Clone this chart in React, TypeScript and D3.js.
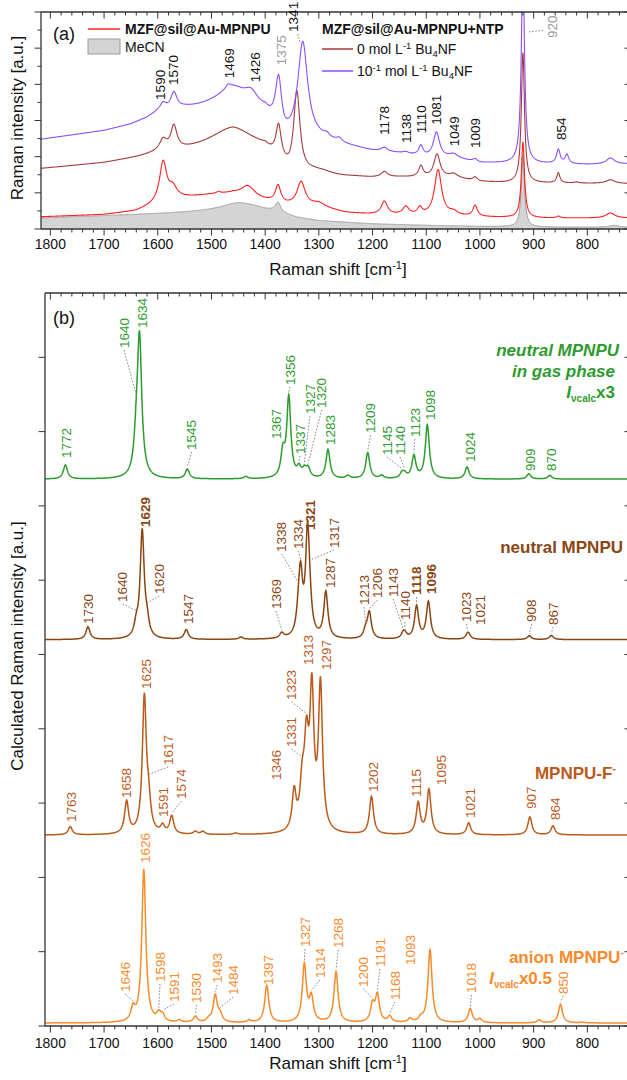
import React from 'react';
import * as d3 from 'd3';

type Band = [number, number, number?];
type Pt = [number, number];
type Lbl = { v: number; x: number; y: number; b?: boolean; g?: boolean };

const FONT = "'Liberation Sans', Arial, Helvetica, sans-serif";

// x axis tick labels (Raman shift, cm-1)
const xTickLabels = [1800, 1700, 1600, 1500, 1400, 1300, 1200, 1100, 1000, 900, 800];

// ---------- panel (a): measured spectra (baseline anchors [cm-1, a.u.] + bands [cm-1, height, fwhm]) ----------
const mecnBaseline: Pt[] = [[1830, 0.3], [1600, 0.42], [1500, 0.48], [1420, 0.52], [1380, 0.45], [1340, 0.3], [1300, 0.22], [1200, 0.14], [1100, 0.1], [1000, 0.07], [900, 0.05], [712, 0.05]];
const mecnBands: Band[] = [[1450, 0.22, 80], [1376, 0.26, 12], [920, 2.0, 7], [750, 0.05, 20]];

const sampleBaseline: Pt[] = [[1830, 0.33], [1700, 0.4], [1640, 0.5], [1600, 0.7], [1560, 0.85], [1500, 0.95], [1460, 0.98], [1400, 0.78], [1360, 0.66], [1300, 0.6], [1250, 0.45], [1200, 0.4], [1100, 0.36], [1000, 0.33], [900, 0.3], [712, 0.3]];
const sampleBands: Band[] = [[1590, 1.1, 16], [1572, 0.3, 18], [1487, 0.05, 8], [1432, 0.3, 30], [1376, 0.47, 12], [1333, 0.65, 18], [1300, 0.1, 30], [1178, 0.36, 14], [1138, 0.22, 14], [1112, 0.19, 10], [1078, 1.27, 16], [1049, 0.1, 20], [1009, 0.3, 10], [920, 2.1, 7], [854, 0.05, 8], [757, 0.14, 20]];

const ntp0Baseline: Pt[] = [[1830, 1.65], [1700, 1.82], [1640, 1.96], [1600, 2.08], [1560, 2.13], [1460, 2.3], [1400, 2.14], [1355, 1.48], [1300, 1.37], [1232, 1.41], [1200, 1.4], [1150, 1.42], [1050, 1.4], [1000, 1.3], [950, 1.27], [712, 1.25]];
const ntp0Bands: Band[] = [[1590, 0.3, 16], [1570, 0.65, 14], [1460, 0.5, 100], [1375, 0.9, 12], [1341, 2.2, 14], [1300, 0.2, 60], [1178, 0.15, 14], [1110, 0.3, 10], [1080, 0.64, 14], [1049, 0.1, 20], [1009, 0.1, 10], [920, 3.6, 7], [854, 0.28, 7], [820, 0.03, 10], [757, 0.1, 20]];

const ntp1Baseline: Pt[] = [[1830, 2.45], [1700, 2.71], [1650, 2.88], [1620, 3.05], [1600, 3.2], [1550, 3.3], [1500, 3.3], [1400, 3.1], [1365, 2.4], [1330, 2.5], [1290, 2.45], [1250, 2.3], [1200, 2.15], [1150, 2.08], [1100, 1.97], [1050, 1.95], [1000, 1.82], [900, 1.8], [800, 1.78], [712, 1.8]];
const ntp1Bands: Band[] = [[1590, 0.2, 14], [1570, 0.45, 14], [1460, 0.65, 70], [1469, 0.1, 10], [1426, 0.35, 30], [1375, 1.4, 14], [1330, 2.6, 22], [1285, 0.08, 10], [1262, 0.1, 12], [1178, 0.11, 14], [1138, 0.05, 14], [1110, 0.28, 10], [1081, 0.69, 14], [1049, 0.1, 20], [1009, 0.08, 10], [920, 5.5, 7], [854, 0.39, 8], [838, 0.25, 8], [757, 0.17, 18]];

const panelALabels: Lbl[] = [
  { v: 1590, x: 1596, y: 3.57 }, { v: 1570, x: 1571.7, y: 3.98 }, { v: 1469, x: 1467.4, y: 4.17 },
  { v: 1426, x: 1419, y: 4.06 }, { v: 1375, x: 1370.6, y: 4.53, g: true }, { v: 1341, x: 1348.3, y: 5.45 },
  { v: 920, x: 866, y: 5.28, g: true }, { v: 1178, x: 1178.8, y: 2.6 }, { v: 1138, x: 1137.9, y: 2.38 },
  { v: 1110, x: 1110, y: 2.65 }, { v: 1081, x: 1082, y: 2.88 }, { v: 1049, x: 1048.5, y: 2.29 },
  { v: 1009, x: 1009.4, y: 2.24 }, { v: 854, x: 849.3, y: 2.46 },
];
const panelALeaders: [number, number, number, number][] = [[1339, 5.39, 1335.3, 5.17], [908.8, 5.45, 879, 5.5]];

// ---------- panel (b): calculated spectra (bands [cm-1, intensity, fwhm]) ----------
const stackOffsets = { gas: 7.36, neutral: 5.2, fluoride: 2.57, anion: 0.04 };

const gasBands: Band[] = [[1772, 0.19], [1640, 0.35, 10], [1634, 1.85, 10], [1545, 0.13], [1436, 0.03], [1367, 0.32], [1356, 1.08], [1337, 0.12], [1327, 0.1], [1320, 0.12], [1283, 0.39], [1246, 0.04], [1209, 0.35], [1183, 0.04], [1145, 0.07], [1140, 0.05], [1123, 0.3], [1098, 0.72], [1024, 0.16], [909, 0.07], [870, 0.05]];
const neutralBands: Band[] = [[1730, 0.17], [1640, 0.15], [1629, 1.44], [1620, 0.17], [1547, 0.13], [1445, 0.03], [1369, 0.07], [1338, 0.2], [1334, 0.78], [1321, 1.37], [1317, 0.2], [1287, 0.62], [1213, 0.1], [1206, 0.35], [1143, 0.06], [1140, 0.06], [1118, 0.44], [1096, 0.5], [1023, 0.05], [1021, 0.05], [908, 0.05], [867, 0.055]];
const fluorideBands: Band[] = [[1763, 0.11], [1658, 0.43], [1625, 1.82], [1617, 0.34], [1591, 0.1], [1574, 0.24], [1530, 0.04], [1516, 0.04], [1455, 0.02], [1346, 0.51], [1331, 0.54, 10], [1323, 1.08, 10], [1313, 1.78], [1297, 1.95], [1202, 0.51], [1115, 0.42], [1095, 0.6], [1021, 0.16], [907, 0.24], [864, 0.12]];
const anionBands: Band[] = [[1646, 0.17], [1626, 2.06], [1598, 0.1], [1591, 0.08], [1560, 0.03], [1530, 0.08], [1505, 0.04], [1493, 0.36], [1484, 0.1], [1430, 0.03], [1397, 0.5], [1327, 0.77], [1314, 0.32], [1268, 0.68], [1200, 0.23], [1191, 0.36], [1168, 0.08], [1130, 0.05], [1110, 0.05], [1093, 0.98], [1018, 0.19], [1000, 0.05], [890, 0.04], [850, 0.25], [810, 0.01]];

const gasLabels: Lbl[] = [
  { v: 1772, x: 1769.6, y: 7.645 }, { v: 1640, x: 1663, y: 9.125 }, { v: 1634, x: 1628, y: 9.394 },
  { v: 1545, x: 1537, y: 7.752 }, { v: 1367, x: 1380, y: 7.9 }, { v: 1356, x: 1354, y: 8.627 },
  { v: 1337, x: 1335, y: 7.698 }, { v: 1327, x: 1316.6, y: 8.237 }, { v: 1320, x: 1294.8, y: 8.318 },
  { v: 1283, x: 1279.4, y: 7.82 }, { v: 1209, x: 1203.6, y: 7.98 }, { v: 1145, x: 1173.3, y: 7.685 },
  { v: 1140, x: 1149, y: 7.685 }, { v: 1123, x: 1121.1, y: 7.927 }, { v: 1098, x: 1091.9, y: 8.156 },
  { v: 1024, x: 1018.7, y: 7.59 }, { v: 909, x: 907, y: 7.47 }, { v: 870, x: 866.6, y: 7.47 },
];
const neutralLabels: Lbl[] = [
  { v: 1730, x: 1729.4, y: 5.41 }, { v: 1640, x: 1665.4, y: 5.707 }, { v: 1629, x: 1623.9, y: 6.716, b: true },
  { v: 1620, x: 1597.2, y: 5.814 }, { v: 1547, x: 1543.2, y: 5.41 }, { v: 1369, x: 1380, y: 5.612 },
  { v: 1338, x: 1369.3, y: 6.38 }, { v: 1334, x: 1338.4, y: 6.42 }, { v: 1321, x: 1315.3, y: 6.676, b: true },
  { v: 1317, x: 1271.9, y: 6.433 }, { v: 1287, x: 1278.1, y: 5.895 }, { v: 1213, x: 1216.1, y: 5.666 },
  { v: 1206, x: 1191.3, y: 5.76 }, { v: 1143, x: 1161.5, y: 5.774 }, { v: 1140, x: 1139.7, y: 5.464 },
  { v: 1118, x: 1117.9, y: 5.8, b: true }, { v: 1096, x: 1090, y: 5.814, b: true }, { v: 1023, x: 1024.9, y: 5.437 },
  { v: 1021, x: 1000, y: 5.397 }, { v: 908, x: 903.8, y: 5.437 }, { v: 867, x: 863.6, y: 5.397 },
];
const fluorideLabels: Lbl[] = [
  { v: 1763, x: 1760.3, y: 2.746 }, { v: 1658, x: 1657.9, y: 3.069 }, { v: 1625, x: 1620.7, y: 4.536 },
  { v: 1617, x: 1580.5, y: 3.513 }, { v: 1591, x: 1589.8, y: 2.813 }, { v: 1574, x: 1555.5, y: 3.055 },
  { v: 1346, x: 1378.6, y: 3.311 }, { v: 1331, x: 1350.7, y: 3.755 }, { v: 1323, x: 1350.7, y: 4.388 },
  { v: 1313, x: 1319.8, y: 4.859 }, { v: 1297, x: 1285.5, y: 4.791 }, { v: 1202, x: 1198.8, y: 3.149 },
  { v: 1115, x: 1117.9, y: 3.082 }, { v: 1095, x: 1071.4, y: 3.244 }, { v: 1021, x: 1018.7, y: 2.8 },
  { v: 907, x: 903.8, y: 2.92 }, { v: 864, x: 860.4, y: 2.773 },
];
const anionLabels: Lbl[] = [
  { v: 1646, x: 1661.1, y: 0.458 }, { v: 1626, x: 1623.9, y: 2.194 }, { v: 1598, x: 1595.9, y: 0.592 },
  { v: 1591, x: 1569.9, y: 0.323 }, { v: 1530, x: 1527.6, y: 0.31 }, { v: 1493, x: 1489.2, y: 0.579 },
  { v: 1484, x: 1459.4, y: 0.417 }, { v: 1397, x: 1394.3, y: 0.552 }, { v: 1327, x: 1325.9, y: 1.063 },
  { v: 1314, x: 1298, y: 0.646 }, { v: 1268, x: 1263.9, y: 1.05 }, { v: 1200, x: 1217.4, y: 0.525 },
  { v: 1191, x: 1186.3, y: 0.794 }, { v: 1168, x: 1158.4, y: 0.35 }, { v: 1093, x: 1130.4, y: 0.821 },
  { v: 1018, x: 1015.5, y: 0.444 }, { v: 850, x: 845, y: 0.431 },
];

const C = {
  axis: '#333', sample: '#ff2020', ntp0: '#a33b3b', ntp1: '#8b4dff', mecnFill: '#d4d4d4', mecnLine: '#9a9a9a',
  gas: '#2e9b2e', neutral: '#8b4513', fluoride: '#bb5a1c', anion: '#f98a2c', leader: '#8a8a8a',
};

// sampling grid for the curves
const grid = d3.range(1830, 712, -0.5);

function makeSpectrum(bands: Band[], baseline: Pt[] | number, defW = 9) {
  const base = typeof baseline === 'number'
    ? () => baseline
    : d3.scaleLinear().domain(baseline.map(d => d[0])).range(baseline.map(d => d[1])).clamp(true);
  const f = (x: number) => base(x) + d3.sum(bands, ([p, h, w]) => {
    const g = ((w ?? defW) / 2) ** 2;
    return h * g / ((x - p) ** 2 + g);
  });
  return { f, pts: grid.map(x => [x, f(x)] as Pt) };
}

// scales
const xB = d3.scaleLinear().domain([1810, 720]).range([45, 630.3]);
const xA = d3.scaleLinear().domain([xB.invert(41), 720]).range([41, 630.3]);
const yA = d3.scaleLinear().domain([0, 6]).range([229, 12]);
const yB = d3.scaleLinear().domain([0, (1026 - 293) / 74.3]).range([1026, 293]);

function XAxis({ sx, yTop, yBot, labelY }: { sx: d3.ScaleLinear<number, number>; yTop: number; yBot: number; labelY: number }) {
  const minors = d3.range(1800, 719, -20).filter(v => v % 100 !== 0);
  return (
    <g>
      {minors.map(v => (
        <g key={'m' + v}>
          <line x1={sx(v)} x2={sx(v)} y1={yBot} y2={yBot + 3.5} stroke={C.axis} />
          <line x1={sx(v)} x2={sx(v)} y1={yTop} y2={yTop + 3.5} stroke={C.axis} />
        </g>
      ))}
      {xTickLabels.map(v => (
        <g key={'M' + v}>
          <line x1={sx(v)} x2={sx(v)} y1={yBot} y2={yBot + 6.5} stroke={C.axis} />
          <line x1={sx(v)} x2={sx(v)} y1={yTop} y2={yTop + 6.5} stroke={C.axis} />
          <text x={sx(v)} y={labelY} textAnchor="middle" fontSize={14} fill="#111">{v}</text>
        </g>
      ))}
    </g>
  );
}

function YTicks({ sy, xl, xr, majors, minors }: { sy: d3.ScaleLinear<number, number>; xl: number; xr: number; majors: number[]; minors: number[] }) {
  return (
    <g stroke={C.axis}>
      {majors.map(v => (
        <g key={'M' + v}>
          <line x1={xl - 6.5} x2={xl} y1={sy(v)} y2={sy(v)} />
          <line x1={xr - 6.5} x2={xr} y1={sy(v)} y2={sy(v)} />
        </g>
      ))}
      {minors.map(v => (
        <g key={'m' + v}>
          <line x1={xl - 3.5} x2={xl} y1={sy(v)} y2={sy(v)} />
          <line x1={xr - 3.5} x2={xr} y1={sy(v)} y2={sy(v)} />
        </g>
      ))}
    </g>
  );
}

function PeakLabels({ items, sx, sy, color, f }: { items: Lbl[]; sx: d3.ScaleLinear<number, number>; sy: d3.ScaleLinear<number, number>; color: string; f?: (x: number) => number }) {
  return (
    <g>
      {items.map((d, i) => {
        const lx = sx(d.x), ly = sy(d.y);
        let leader = null;
        if (f) {
          const py = sy(f(d.v)) - 2;
          if (py - (ly + 2) > 4) {
            leader = <line x1={lx} y1={ly + 2} x2={sx(d.v)} y2={py} stroke={C.leader} strokeDasharray="1.6,1.6" strokeWidth={1} />;
          }
        }
        return (
          <g key={i}>
            {leader}
            <text transform={`translate(${lx},${ly}) rotate(-90)`} dy="0.35em" fontSize={13.5}
              fontWeight={d.b ? 'bold' : 'normal'} fill={d.g ? '#9a9a9a' : color}>{d.v}</text>
          </g>
        );
      })}
    </g>
  );
}

export default function App() {
  const mecn = makeSpectrum(mecnBands, mecnBaseline);
  const sample = makeSpectrum(sampleBands, sampleBaseline);
  const ntp0 = makeSpectrum(ntp0Bands, ntp0Baseline);
  const ntp1 = makeSpectrum(ntp1Bands, ntp1Baseline);

  const gas = makeSpectrum(gasBands, stackOffsets.gas);
  const neutral = makeSpectrum(neutralBands, stackOffsets.neutral);
  const fluoride = makeSpectrum(fluorideBands, stackOffsets.fluoride);
  const anion = makeSpectrum(anionBands, stackOffsets.anion);

  const lineA = d3.line<Pt>().x(d => xA(d[0])).y(d => yA(d[1]));
  const areaA = d3.area<Pt>().x(d => xA(d[0])).y0(yA(0)).y1(d => yA(d[1]));
  const lineB = d3.line<Pt>().x(d => xB(d[0])).y(d => yB(d[1]));

  const sub = (t: string) => <tspan fontSize={10} dy={4}>{t}</tspan>;

  return (
    <div style={{ position: 'absolute', left: 0, top: 0 }}>
      <svg width={627} height={1080} style={{ display: 'block', fontFamily: FONT, background: '#fff' }}>
        <defs>
          <clipPath id="clipA"><rect x={41} y={12} width={590} height={217} /></clipPath>
          <clipPath id="clipB"><rect x={45} y={293} width={586} height={733} /></clipPath>
        </defs>

        {/* ---------- panel (a) ---------- */}
        <g clipPath="url(#clipA)">
          <path d={areaA(mecn.pts)!} fill={C.mecnFill} stroke="none" />
          <path d={lineA(mecn.pts)!} fill="none" stroke={C.mecnLine} strokeWidth={1} />
          <path d={lineA(sample.pts)!} fill="none" stroke={C.sample} strokeWidth={1.1} />
          <path d={lineA(ntp0.pts)!} fill="none" stroke={C.ntp0} strokeWidth={1.1} />
          <path d={lineA(ntp1.pts)!} fill="none" stroke={C.ntp1} strokeWidth={1.1} />
        </g>
        <g fill="none" stroke={C.axis} strokeWidth={1.3}>
          <line x1={41} x2={41} y1={12} y2={229} />
          <line x1={41} x2={631} y1={229} y2={229} />
          <line x1={41} x2={631} y1={12} y2={12} />
          <line x1={631} x2={631} y1={12} y2={229} />
        </g>
        <XAxis sx={xA} yTop={12} yBot={229} labelY={249} />
        <YTicks sy={yA} xl={41} xr={631} majors={d3.range(0, 6.01, 1)} minors={d3.range(0.5, 6, 1)} />
        <PeakLabels items={panelALabels} sx={xA} sy={yA} color="#111" />
        {panelALeaders.map((d, i) => (
          <line key={i} x1={xA(d[0])} y1={yA(d[1])} x2={xA(d[2])} y2={yA(d[3])} stroke={C.leader} strokeDasharray="1.6,1.6" />
        ))}
        <text x={53} y={40} fontSize={18} fill="#111">(a)</text>

        {/* legend (a) */}
        <line x1={88} x2={120} y1={29} y2={29} stroke={C.sample} strokeWidth={1.5} />
        <text x={125} y={34} fontSize={14} fontWeight="bold" fill="#111">MZF@sil@Au-MPNPU</text>
        <rect x={88} y={39} width={32} height={15} fill={C.mecnFill} stroke={C.mecnLine} />
        <text x={125} y={52} fontSize={14} fill="#111">MeCN</text>
        <text x={322} y={34} fontSize={14} fontWeight="bold" fill="#111">MZF@sil@Au-MPNPU+NTP</text>
        <line x1={322} x2={353} y1={49} y2={49} stroke={C.ntp0} strokeWidth={1.5} />
        <text x={357} y={54} fontSize={14} fill="#111">0 mol L<tspan fontSize={9.5} dy={-5}>-1</tspan><tspan dy={5}> Bu</tspan><tspan fontSize={9.5} dy={3}>4</tspan><tspan dy={-3}>NF</tspan></text>
        <line x1={322} x2={353} y1={71} y2={71} stroke={C.ntp1} strokeWidth={1.5} />
        <text x={357} y={76} fontSize={14} fill="#111">10<tspan fontSize={9.5} dy={-5}>-1</tspan><tspan dy={5}> mol L</tspan><tspan fontSize={9.5} dy={-5}>-1</tspan><tspan dy={5}> Bu</tspan><tspan fontSize={9.5} dy={3}>4</tspan><tspan dy={-3}>NF</tspan></text>

        <text transform="translate(17,118) rotate(-90)" textAnchor="middle" dy="0.35em" fontSize={17} fill="#111">Raman intensity [a.u.]</text>
        <text x={338} y={275} textAnchor="middle" fontSize={17} fill="#111">Raman shift [cm<tspan fontSize={11} dy={-6}>-1</tspan><tspan dy={6}>]</tspan></text>

        {/* ---------- panel (b) ---------- */}
        <g clipPath="url(#clipB)" fill="none" strokeWidth={1.5}>
          <path d={lineB(gas.pts)!} stroke={C.gas} />
          <path d={lineB(neutral.pts)!} stroke={C.neutral} />
          <path d={lineB(fluoride.pts)!} stroke={C.fluoride} />
          <path d={lineB(anion.pts)!} stroke={C.anion} />
        </g>
        <g fill="none" stroke={C.axis} strokeWidth={1.3}>
          <line x1={45} x2={45} y1={293} y2={1026} />
          <line x1={45} x2={631} y1={1026} y2={1026} />
          <line x1={45} x2={631} y1={293} y2={293} />
          <line x1={631} x2={631} y1={293} y2={1026} />
        </g>
        <XAxis sx={xB} yTop={293} yBot={1026} labelY={1048} />
        <YTicks sy={yB} xl={45} xr={631} majors={d3.range(0, 9.01, 1)} minors={[]} />
        <PeakLabels items={gasLabels} sx={xB} sy={yB} color={C.gas} f={gas.f} />
        <PeakLabels items={neutralLabels} sx={xB} sy={yB} color={C.neutral} f={neutral.f} />
        <PeakLabels items={fluorideLabels} sx={xB} sy={yB} color={C.fluoride} f={fluoride.f} />
        <PeakLabels items={anionLabels} sx={xB} sy={yB} color={C.anion} f={anion.f} />
        <text x={53} y={324} fontSize={18} fill="#111">(b)</text>

        <g fontSize={17} fontWeight="bold" textAnchor="end">
          <text x={619} y={356} fill={C.gas} fontStyle="italic">neutral MPNPU</text>
          <text x={615} y={377} fill={C.gas} fontStyle="italic">in gas phase</text>
          <text x={615} y={398} fill={C.gas}><tspan fontStyle="italic">I</tspan>{sub('νcalc')}<tspan dy={-4}>x3</tspan></text>
          <text x={623} y={553} fill={C.neutral}>neutral MPNPU</text>
          <text x={616} y={779} fill={C.fluoride}>MPNPU-F<tspan fontSize={11} dy={-7}>-</tspan></text>
          <text x={624} y={963} fill={C.anion}>anion MPNPU<tspan fontSize={11} dy={-7}>-</tspan></text>
          <text x={552} y={984} fill={C.anion}><tspan fontStyle="italic">I</tspan>{sub('νcalc')}<tspan dy={-4}>x0.5</tspan></text>
        </g>

        <text transform="translate(17,646) rotate(-90)" textAnchor="middle" dy="0.35em" fontSize={17} fill="#111">Calculated Raman intensity [a.u.]</text>
        <text x={338} y={1069} textAnchor="middle" fontSize={17} fill="#111">Raman shift [cm<tspan fontSize={11} dy={-6}>-1</tspan><tspan dy={6}>]</tspan></text>
      </svg>
    </div>
  );
}
